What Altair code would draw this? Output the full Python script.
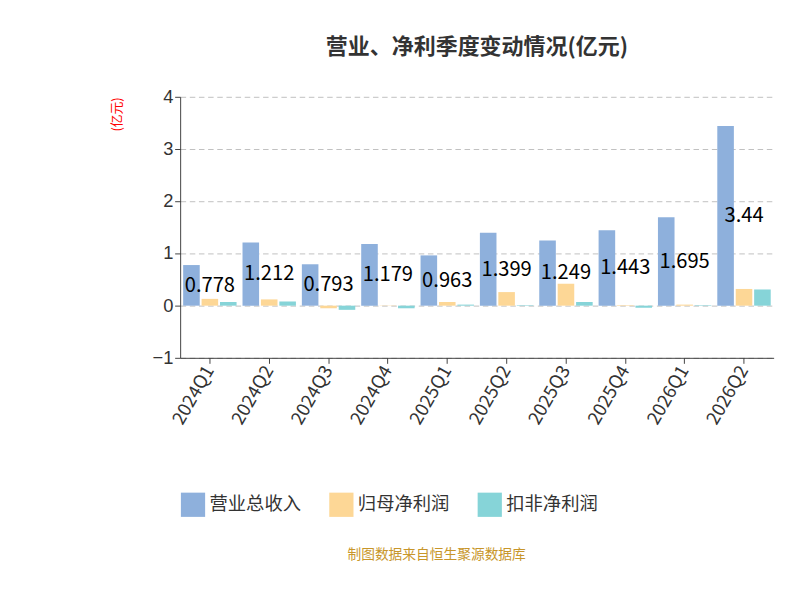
import altair as alt
import pandas as pd

quarters = ["2024Q1","2024Q2","2024Q3","2024Q4","2025Q1","2025Q2","2025Q3","2025Q4","2026Q1","2026Q2"]
revenue = [0.778,1.212,0.793,1.179,0.963,1.399,1.249,1.443,1.695,3.44]
net_profit = [0.13,0.12,-0.05,0.005,0.07,0.26,0.42,0.01,0.02,0.32]
net_profit_ded = [0.07,0.08,-0.08,-0.05,0.02,0.01,0.07,-0.04,0.01,0.31]
series = ["营业总收入","归母净利润","扣非净利润"]
colors = ["#8eb0dc","#fdd796","#86d4d8"]

rows = []
for i, q in enumerate(quarters):
    for s, vals in zip(series, [revenue, net_profit, net_profit_ded]):
        rows.append({"q": q, "s": s, "v": vals[i]})
df = pd.DataFrame(rows)
lab = pd.DataFrame({"q": quarters, "v": revenue, "h": [r/2 for r in revenue],
                    "t": [f"{r:g}" for r in revenue]})

F = "Noto Sans CJK SC"
x = alt.X("q:N", sort=quarters, title=None,
          scale=alt.Scale(paddingInner=0.1, paddingOuter=0.05),
          axis=alt.Axis(labelAngle=-60, labelFontSize=20, labelColor="#333", labelFont=F,
                        domainColor="#333", tickColor="#333", tickSize=6, labelPadding=4))
bars = alt.Chart(df).mark_bar().encode(
    x=x,
    xOffset=alt.XOffset("s:N", sort=series, scale=alt.Scale(paddingInner=0.1)),
    y=alt.Y("v:Q", scale=alt.Scale(domain=[-1, 4]), title="(亿元)",
            axis=alt.Axis(values=[-1,0,1,2,3,4], format="d", labelFontSize=20, labelColor="#333",
                          gridDash=[6,4], gridColor="#bbb", domainColor="#333", tickColor="#333",
                          tickSize=6,
                          titleColor="red", titleFontSize=14, titleFontWeight="normal",
                          titleAngle=-90, titleAnchor="end", titleX=-62, titleY=0, titleFont=F)),
    color=alt.Color("s:N", sort=series, scale=alt.Scale(domain=series, range=colors),
                    legend=alt.Legend(orient="bottom", title=None, symbolType="square",
                                      symbolSize=700, labelFontSize=20, labelFont=F,
                                      labelColor="#333", columnPadding=30, offset=70)),
)
text = alt.Chart(lab).mark_text(fontSize=22, font=F, color="#000").encode(
    x=alt.X("q:N", sort=quarters), y="h:Q", text="t:N")
footer = alt.Chart(pd.DataFrame({"t": ["制图数据来自恒生聚源数据库"]})).mark_text(
    fontSize=15, font=F, color="#c8962a").encode(
    x=alt.value(280), y=alt.value(500), text="t:N")

chart = alt.layer(bars, text, footer).properties(
    width=648, height=285,
    title=alt.Title("营业、净利季度变动情况(亿元)", font=F, fontSize=24, fontWeight="bold",
                    color="#333", offset=32),
).configure_view(stroke=None).configure_axisX(grid=False)

chart = chart.properties(padding={"left": 112, "top": 4, "right": 20, "bottom": 10})
chart.save("out.html", embed_options={"renderer": "svg", "actions": False})
